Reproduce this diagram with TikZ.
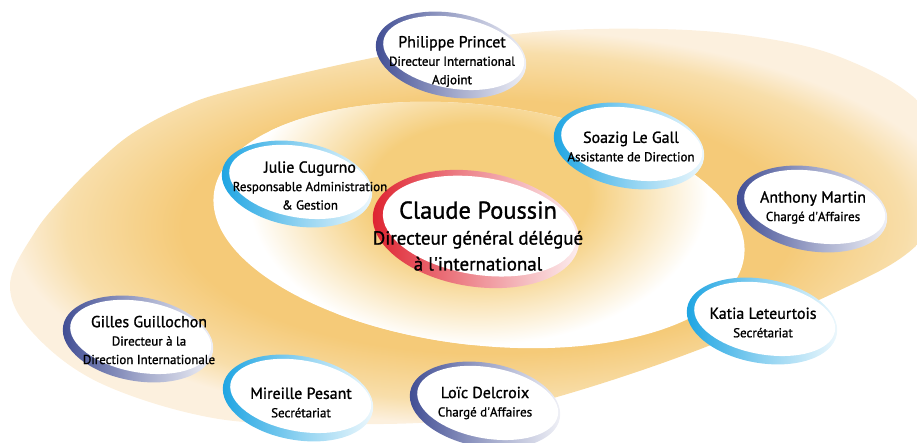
\documentclass[tikz,border=0pt]{standalone}
\usepackage{fontspec}
\setmainfont[FakeBold=1.2]{PT Sans}
\definecolor{navyring}{RGB}{61,74,146}
\definecolor{skyring}{RGB}{26,163,226}
\definecolor{redring}{RGB}{222,32,45}
\definecolor{ringdeep}{RGB}{245,202,120}
\definecolor{ringlight}{RGB}{248,222,170}
\definecolor{ringpale}{RGB}{252,240,222}
\definecolor{glowor}{RGB}{245,206,124}
\pgfdeclareradialshading{ringglow}{\pgfpoint{0bp}{0bp}}{color(0bp)=(ringdeep); color(16bp)=(ringdeep); color(22bp)=(ringlight); color(25bp)=(ringpale); color(50bp)=(ringpale)}
\pgfdeclareradialshading{centreglow}{\pgfpoint{0bp}{0bp}}{color(0bp)=(glowor); color(12bp)=(glowor); color(25bp)=(white); color(50bp)=(white)}
\newcommand{\namesize}{\fontsize{16}{18.5}\selectfont}
\newcommand{\chiefsize}{\fontsize{24.5}{26}\selectfont}

\begin{document}
\begin{tikzpicture}[
    x=1bp, y=-1bp,
    person/.style={align=center, inner sep=0pt, font=\fontsize{13}{18.5}\selectfont},
    chief/.style={align=center, inner sep=0pt, font=\fontsize{19}{26}\selectfont},
    ring/.pic={
        \shade[left color=#1, right color=#1!6, middle color=#1!50] (0,0) ellipse (76 and 42);
        \fill[white] (2.3,-2.5) ellipse (71.3 and 35.5);
    }
]
    \clip (0,0) rectangle (917,443);

    % orange band and white centre
    \shade[shading=ringglow] plot[smooth cycle, tension=0.6] coordinates {
        (10,285) (33,333) (100,383) (213,418) (330,424) (457,420) (557,397)
        (690,353) (834,293) (917,245) (965,170) (917,100) (840,57) (757,37)
        (657,29) (524,33) (377,57) (233,90) (180,108) (133,133) (100,160)
        (67,193) (35,232)};
    \fill[white, rotate around={-6.7:(479,225)}] (479,225) ellipse (267 and 120);
    \begin{scope}
        \clip[rotate around={-6.7:(479,225)}] (479,225) ellipse (267 and 120);
        \shade[shading=centreglow] (478,195) ellipse (230 and 150);
    \end{scope}

    % rings
    \foreach \cx/\cy/\col in {451/55/navyring, 629/146/skyring, 297/184/skyring,
        812/209/navyring, 762/321/skyring, 138/339/navyring,
        298/398/skyring, 485/405/navyring} {
        \pic[rotate=-10] at (\cx,\cy) {ring=\col};
    }
    \pic[rotate=-9, scale=1.37] at (476,229) {ring=redring};

    % names
    \node[chief] (claude) at (478,236) {{\chiefsize Claude Poussin}\\Directeur général délégué\\à l\textquotesingle international};
    \node[person] (philippe) at (452,61.5) {{\namesize Philippe Princet}\\Directeur International\\Adjoint};
    \node[person] (soazig) at (631,146.5) {{\namesize Soazig Le Gall}\\Assistante de Direction};
    \node[person] (julie) at (310,185.5) {{\namesize Julie Cugurno}\\Responsable Administration\\\& Gestion};
    \node[person] (anthony) at (813,207.5) {{\namesize Anthony Martin}\\Chargé d\textquotesingle Affaires};
    \node[person] (katia) at (763,322.5) {{\namesize Katia Leteurtois}\\Secrétariat};
    \node[person] (gilles) at (149,340) {{\namesize Gilles Guillochon}\\Directeur à la\\Direction Internationale};
    \node[person] (mireille) at (301,402.5) {{\namesize Mireille Pesant}\\Secrétariat};
    \node[person] (loic) at (485,403) {{\namesize Loïc Delcroix}\\Chargé d\textquotesingle Affaires};
\end{tikzpicture}
\end{document}
